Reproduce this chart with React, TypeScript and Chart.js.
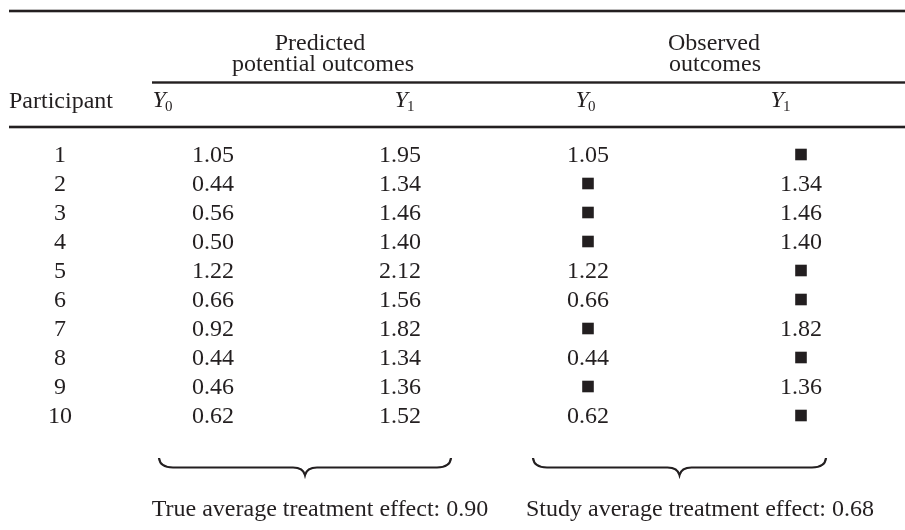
import React, { useEffect, useRef } from "react";
import { Chart, registerables } from "chart.js";

Chart.register(...registerables);

// ---- data ----
const participants = [1, 2, 3, 4, 5, 6, 7, 8, 9, 10];
const predictedY0 = [1.05, 0.44, 0.56, 0.5, 1.22, 0.66, 0.92, 0.44, 0.46, 0.62];
const predictedY1 = [1.95, 1.34, 1.46, 1.4, 2.12, 1.56, 1.82, 1.34, 1.36, 1.52];
const treated = [false, true, true, true, false, false, true, false, true, false];
const groupHeaders = [["Predicted", "potential outcomes"], ["Observed", "outcomes"]];
const rowHeader = "Participant";
const trueEffectPrefix = "True average treatment effect: ";
const studyEffectPrefix = "Study average treatment effect: ";

const mean = (a: number[]) => a.reduce((s, v) => s + v, 0) / a.length;
const trueEffect = mean(predictedY1.map((v, i) => v - predictedY0[i]));
const obsY1 = predictedY1.filter((_, i) => treated[i]);
const obsY0 = predictedY0.filter((_, i) => !treated[i]);
const studyEffect = mean(obsY1) - mean(obsY0);

// ---- layout (pixels / row units) ----
const W = 905;
const H = 530;
const ROW_BASE = 162; // baseline of row 1
const ROW_STEP = 29;
const COL = { part: 60, pY0: 213, pY1: 400, oY0: 588, oY1: 801 };
const HEAD = { pY0: 163, pY1: 405, oY0: 586, oY1: 781 };
const FONT = '"Liberation Serif", "Times New Roman", serif';
const FS = 24;
const INK = "#231f20";

const tablePlugin = {
  id: "tablePlugin",
  beforeDraw(chart: any) {
    const ctx = chart.ctx;
    ctx.save();
    ctx.fillStyle = "#ffffff";
    ctx.fillRect(0, 0, chart.width, chart.height);
    ctx.restore();
  },
  afterDatasetsDraw(chart: any) {
    const ctx: CanvasRenderingContext2D = chart.ctx;
    const xs = chart.scales.x;
    const ys = chart.scales.y;
    const px = (v: number) => xs.getPixelForValue(v);
    const py = (v: number) => ys.getPixelForValue(v);
    ctx.save();
    ctx.fillStyle = INK;
    ctx.strokeStyle = INK;
    ctx.textBaseline = "alphabetic";

    // rules
    const rule = (x1: number, x2: number, y: number, w: number) => {
      ctx.fillRect(px(x1), y - w / 2, px(x2) - px(x1), w);
    };
    rule(9, 905, 11, 2.6);
    rule(152, 905, 82.5, 2.4);
    rule(9, 905, 127, 2.6);

    ctx.font = `${FS}px ${FONT}`;
    ctx.textAlign = "center";
    // group headers
    ctx.fillText(groupHeaders[0][0], px(320), 50);
    ctx.fillText(groupHeaders[0][1], px(323), 71);
    ctx.fillText(groupHeaders[1][0], px(714), 50);
    ctx.fillText(groupHeaders[1][1], px(715), 71);

    ctx.textAlign = "left";
    ctx.fillText(rowHeader, px(9), 108);

    const subY = (cx: number, base: number, sub: string) => {
      ctx.font = `italic ${FS}px ${FONT}`;
      const wY = ctx.measureText("Y").width;
      ctx.font = `${Math.round(FS * 0.62)}px ${FONT}`;
      const wS = ctx.measureText(sub).width;
      const x0 = cx - (wY + wS) / 2;
      ctx.textAlign = "left";
      ctx.font = `italic ${FS}px ${FONT}`;
      ctx.fillText("Y", x0, base);
      ctx.font = `${Math.round(FS * 0.62)}px ${FONT}`;
      ctx.fillText(sub, x0 + wY - 1, base + 4);
    };
    subY(px(HEAD.pY0), 107, "0");
    subY(px(HEAD.pY1), 107, "1");
    subY(px(HEAD.oY0), 107, "0");
    subY(px(HEAD.oY1), 107, "1");

    // body
    ctx.font = `${FS}px ${FONT}`;
    ctx.textAlign = "center";
    participants.forEach((p, i) => {
      const y = py(p);
      ctx.fillText(String(p), px(COL.part), y);
      ctx.fillText(predictedY0[i].toFixed(2), px(COL.pY0), y);
      ctx.fillText(predictedY1[i].toFixed(2), px(COL.pY1), y);
      if (!treated[i]) ctx.fillText(predictedY0[i].toFixed(2), px(COL.oY0), y);
      if (treated[i]) ctx.fillText(predictedY1[i].toFixed(2), px(COL.oY1), y);
    });

    // braces
    const brace = (x1: number, x2: number) => {
      const xc = (px(x1) + px(x2)) / 2;
      const a = px(x1);
      const b = px(x2);
      const yTop = 458;
      const yMid = 467.5;
      const yTip = 475;
      ctx.beginPath();
      ctx.moveTo(a, yTop);
      ctx.quadraticCurveTo(a + 1, yMid, a + 14, yMid);
      ctx.lineTo(xc - 12, yMid);
      ctx.quadraticCurveTo(xc - 2, yMid, xc, yTip);
      ctx.quadraticCurveTo(xc + 2, yMid, xc + 12, yMid);
      ctx.lineTo(b - 14, yMid);
      ctx.quadraticCurveTo(b - 1, yMid, b, yTop);
      ctx.lineWidth = 2.2;
      ctx.stroke();
    };
    brace(159, 451);
    brace(533, 826);

    ctx.font = `${FS}px ${FONT}`;
    ctx.textAlign = "center";
    ctx.fillText(trueEffectPrefix + trueEffect.toFixed(2), px(320), 516);
    ctx.fillText(studyEffectPrefix + studyEffect.toFixed(2), px(700), 516);
    ctx.restore();
  },
};

export default function App() {
  const ref = useRef<HTMLCanvasElement | null>(null);
  useEffect(() => {
    if (!ref.current) return;
    const sqDy = -7.5 / ROW_STEP;
    const missing0 = participants.filter((_, i) => treated[i]).map((p) => ({ x: COL.oY0, y: p + sqDy }));
    const missing1 = participants.filter((_, i) => !treated[i]).map((p) => ({ x: COL.oY1, y: p + sqDy }));
    const chart = new Chart(ref.current, {
      type: "scatter",
      data: {
        datasets: [
          {
            label: "Unobserved Y0",
            data: missing0,
            pointStyle: "rect",
            pointRadius: 8.2,
            backgroundColor: INK,
            borderWidth: 0,
          },
          {
            label: "Unobserved Y1",
            data: missing1,
            pointStyle: "rect",
            pointRadius: 8.2,
            backgroundColor: INK,
            borderWidth: 0,
          },
        ],
      },
      options: {
        animation: false,
        responsive: false,
        devicePixelRatio: 1,
        layout: { padding: 0, autoPadding: false },
        events: [],
        plugins: { legend: { display: false }, tooltip: { enabled: false }, title: { display: false } },
        scales: {
          x: { type: "linear", display: false, min: 0, max: W },
          y: {
            type: "linear",
            display: false,
            reverse: true,
            min: 1 - ROW_BASE / ROW_STEP,
            max: 1 + (H - ROW_BASE) / ROW_STEP,
          },
        },
      },
      plugins: [tablePlugin],
    });
    return () => chart.destroy();
  }, []);
  return (
    <div style={{ position: "fixed", left: 0, top: 0, width: W, height: H, background: "#fff" }}>
      <canvas ref={ref} width={W} height={H} style={{ display: "block", width: W, height: H }} />
    </div>
  );
}
